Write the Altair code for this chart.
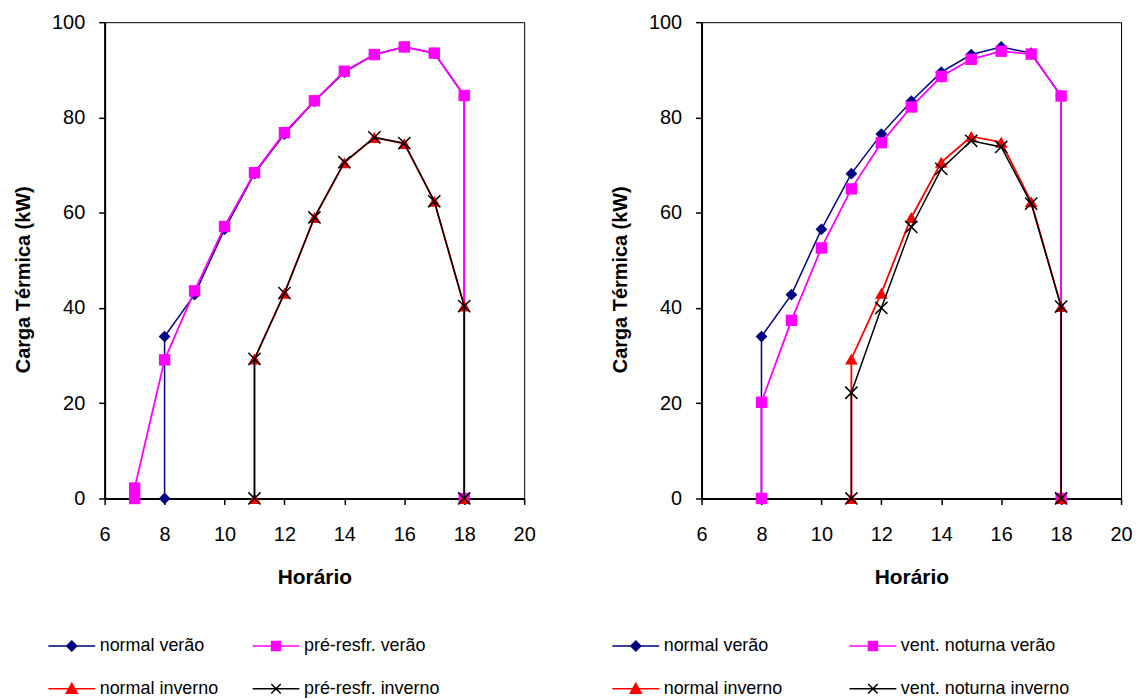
import altair as alt
import pandas as pd

# ---------------- data ----------------
hours_summer = [8, 8, 9, 10, 11, 12, 13, 14, 15, 16, 17, 18, 18]
hours_pre = [7, 7, 8, 9, 10, 11, 12, 13, 14, 15, 16, 17, 18, 18]
hours_winter = [11, 11, 12, 13, 14, 15, 16, 17, 18, 18]

normal_verao = [0, 34.0, 42.8, 56.5, 68.2, 76.5, 83.4, 89.5, 93.2, 94.8, 93.5, 84.5, 0]
pre_resfr_verao = [0, 2.2, 29.1, 43.6, 57.1, 68.4, 76.8, 83.5, 89.7, 93.2, 94.8, 93.5, 84.6, 0]
normal_inverno_l = [0, 29.3, 43.1, 59.0, 70.5, 75.8, 74.5, 62.4, 40.4, 0]
pre_resfr_inverno = [0, 29.3, 43.1, 59.0, 70.6, 75.8, 74.6, 62.4, 40.4, 0]

vent_noturna_verao = [0, 20.2, 37.4, 52.6, 65.0, 74.7, 82.2, 88.6, 92.2, 93.9, 93.3, 84.5, 0]
normal_inverno_r = [0, 29.3, 43.1, 59.0, 70.6, 76.0, 74.8, 62.3, 40.3, 0]
vent_noturna_inverno = [0, 22.2, 40.0, 57.0, 69.2, 75.1, 73.8, 61.9, 40.3, 0]

left_names = ["normal verão", "pré-resfr. verão", "normal inverno", "pré-resfr. inverno"]
right_names = ["normal verão", "vent. noturna verão", "normal inverno", "vent. noturna inverno"]

left_series = [(hours_summer, normal_verao), (hours_pre, pre_resfr_verao),
               (hours_winter, normal_inverno_l), (hours_winter, pre_resfr_inverno)]
right_series = [(hours_summer, normal_verao), (hours_summer, vent_noturna_verao),
                (hours_winter, normal_inverno_r), (hours_winter, vent_noturna_inverno)]

# ---------------- styles ----------------
colors = ["#000080", "#FF00FF", "#FF0000", "#000000"]
X_PATH = "M-1,-1L1,1M-1,1L1,-1"
shapes = ["diamond", "square", "triangle-up", X_PATH]
sizes = [140, 130, 160, 150]
filled = [True, True, True, False]
line_w = [1.5, 1.8, 1.8, 1.5]
legend_paths = [
    "M-4.7,0H4.7M0,-1L1,0L0,1L-1,0Z",
    "M-4.7,0H4.7M-0.9,-0.9H0.9V0.9H-0.9Z",
    "M-4.7,0H4.7M0,-1.1L1.1,0.9H-1.1Z",
    "M-4.7,0H4.7M-0.95,-0.95L0.95,0.95M-0.95,0.95L0.95,-0.95",
]

FONT = "Liberation Sans"


def make_df(names, series):
    rows = []
    for name, (xs, ys) in zip(names, series):
        for i, (x, y) in enumerate(zip(xs, ys)):
            rows.append({"s": name, "h": x, "v": y, "i": i})
    return pd.DataFrame(rows)


def panel(names, series, legend_x, col_pad):
    df = make_df(names, series)
    base = alt.Chart(df)
    X = alt.X("h:Q", scale=alt.Scale(domain=[6, 20], nice=False),
              axis=alt.Axis(values=list(range(6, 21, 2)), title="Horário",
                            labelFlush=False, labelPadding=20, titleY=79,
                            titleBaseline="middle", titleFontSize=21))
    Y = alt.Y("v:Q", scale=alt.Scale(domain=[0, 100], nice=False),
              axis=alt.Axis(values=list(range(0, 101, 20)), title="Carga Térmica (kW)",
                            labelPadding=14, titleX=-81, titleY=258, titleAngle=270,
                            titleBaseline="middle", titleAlign="center", titleFontSize=20))
    layers = []
    for name, c, shp, sz, fl, lw in zip(names, colors, shapes, sizes, filled, line_w):
        sub = base.transform_filter(alt.datum.s == name)
        layers.append(sub.mark_line(color=c, strokeWidth=lw).encode(x=X, y=Y, order="i:Q"))
        layers.append(sub.mark_point(shape=shp, size=sz, filled=fl, color=c, opacity=1,
                                     strokeWidth=1.5).encode(x=X, y=Y))
    leg = alt.Legend(title=None, orient="none", legendX=legend_x, legendY=617,
                     direction="horizontal",
                     columns=2, columnPadding=col_pad, rowPadding=25, padding=0,
                     labelFont=FONT, labelFontSize=18, labelColor="black", labelLimit=400,
                     symbolSize=100, symbolStrokeWidth=1.5, symbolOffset=14, labelOffset=19)
    leg_layer = base.transform_filter("false").mark_point(filled=True, opacity=1).encode(
        x=X, y=Y,
        fill=alt.Fill("s:N", scale=alt.Scale(domain=names, range=colors), legend=leg),
        stroke=alt.Stroke("s:N", scale=alt.Scale(domain=names, range=colors), legend=leg),
        shape=alt.Shape("s:N", scale=alt.Scale(domain=names, range=legend_paths), legend=leg),
    )
    return alt.layer(*layers, leg_layer).properties(width=421, height=478)


left = panel(left_names, left_series, -56, 30)
right = panel(right_names, right_series, -89, 63)

chart = (
    alt.hconcat(left, right, spacing=74)
    .resolve_scale(fill="independent", stroke="independent", shape="independent")
    .properties(padding={"left": 5, "top": 2, "right": 5, "bottom": 0})
    .configure(font=FONT)
    .configure_view(stroke="black", strokeWidth=1)
    .configure_axis(grid=False, domainColor="black", domainWidth=2, tickColor="black",
                    tickWidth=1.5, tickSize=6, labelFont=FONT, labelFontSize=20,
                    labelColor="black", titleFont=FONT, titleFontWeight="bold",
                    titleColor="black")
)

chart.save("out.html", embed_options={"renderer": "svg", "actions": False})
